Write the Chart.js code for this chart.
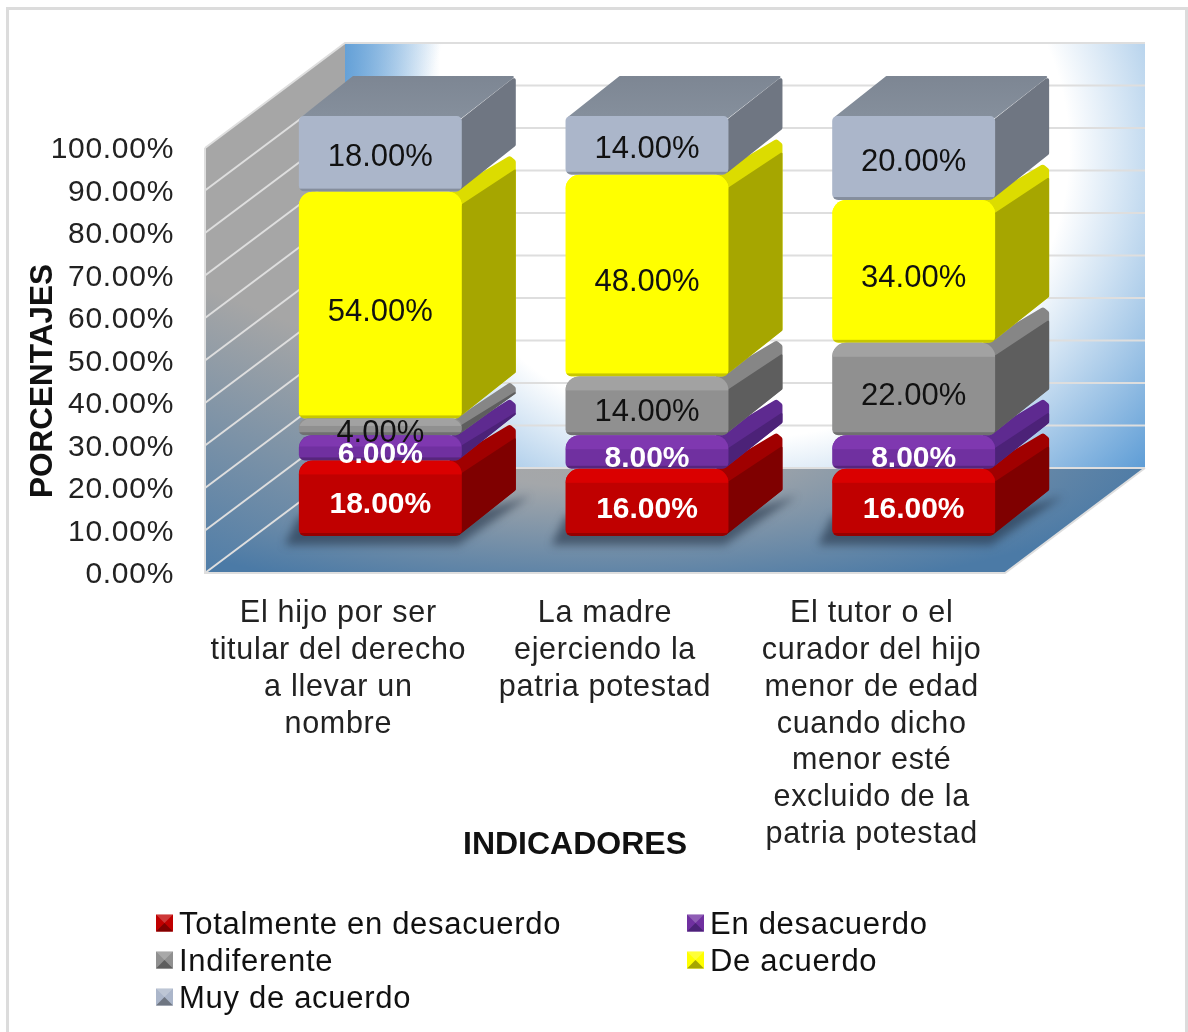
<!DOCTYPE html>
<html lang="es">
<head>
<meta charset="UTF-8">
<title>Indicadores</title>
<script src="https://cdn.jsdelivr.net/npm/chart.js@4"></script>
<style>
  body { margin: 0; background: #fff; overflow: hidden; }
  #frame { position: absolute; left: 6px; top: 7px; width: 1182px; height: 1025px; box-sizing: border-box;
           border: 3px solid #dcdcdc; border-bottom: none; }
  canvas { position: absolute; left: 0; top: 0; }
</style>
</head>
<body>
<div id="frame"></div>
<canvas id="chart" width="1188" height="1032"></canvas>
<script>
const categories = [
  ['El hijo por ser', 'titular del derecho', 'a llevar un', 'nombre'],
  ['La madre', 'ejerciendo la', 'patria potestad'],
  ['El tutor o el', 'curador del hijo', 'menor de edad', 'cuando dicho', 'menor esté', 'excluido de la', 'patria potestad']
];
const seriesNames = ['Totalmente en desacuerdo', 'En desacuerdo', 'Indiferente', 'De acuerdo', 'Muy de acuerdo'];
const totalmenteEnDesacuerdo = [18, 16, 16];
const enDesacuerdo = [6, 8, 8];
const indiferente = [4, 14, 22];
const deAcuerdo = [54, 48, 34];
const muyDeAcuerdo = [18, 14, 20];
const yTickLabels = ['0.00%', '10.00%', '20.00%', '30.00%', '40.00%', '50.00%', '60.00%', '70.00%', '80.00%', '90.00%', '100.00%'];
const yTitle = 'PORCENTAJES';
const xTitle = 'INDICADORES';

// colours per series: front, top band of the front, side, top band of the side
const frontColors = ['#C00000', '#7030A0', '#909090', '#FFFF00', '#ABB6CA'];
const bevelColors = ['#DA0000', '#7F38B0', '#A2A2A2', '#FFFF00', '#ABB6CA'];
const sideColors = ['#7F0000', '#4C2278', '#5E5E5E', '#A6A600', '#6F7682'];
const sideBevelColors = ['#A00000', '#5E2A90', '#868686', '#DCDC00', '#6F7682'];
const labelColors = ['#fff', '#fff', '#111', '#111', '#111'];
const FONT = '"Liberation Sans", Arial, sans-serif';

// fake 3D geometry
const WALL = { dx: 140, dy: -105 };
const BAR_SHIFT = { x: 42, y: -39 };
const BOX = { dx: 54, dy: -40 };
// the plot sits 2px lower than the walls so the tick text lines up
const NUDGE = 2;

function poly(ctx, pts, fill, r) {
  const n = pts.length;
  ctx.beginPath();
  const mid = (a, b) => [(a[0] + b[0]) / 2, (a[1] + b[1]) / 2];
  const start = mid(pts[n - 1], pts[0]);
  ctx.moveTo(start[0], start[1]);
  for (let i = 0; i < n; i++) {
    const next = mid(pts[i], pts[(i + 1) % n]);
    ctx.arcTo(pts[i][0], pts[i][1], next[0], next[1], r || 0.01);
  }
  ctx.closePath();
  ctx.fillStyle = fill;
  ctx.fill();
}

function ellipseGradient(ctx, cx, cy, rx, ry, stops, pts) {
  ctx.save();
  ctx.beginPath();
  pts.forEach((p, i) => (i ? ctx.lineTo(p[0], p[1]) : ctx.moveTo(p[0], p[1])));
  ctx.closePath();
  ctx.clip();
  ctx.translate(cx, cy);
  ctx.scale(rx, ry);
  const g = ctx.createRadialGradient(0, 0, 0, 0, 0, 1);
  stops.forEach(s => g.addColorStop(s[0], s[1]));
  ctx.fillStyle = g;
  ctx.fillRect(-10, -10, 20, 20);
  ctx.restore();
}

const walls3d = {
  id: 'walls3d',
  beforeDraw(chart) {
    const { ctx, chartArea: a, scales } = chart;
    const L = a.left, R = a.right, T = a.top - NUDGE, B = a.bottom - NUDGE;
    const dx = WALL.dx, dy = WALL.dy;

    // the tick text is spaced a bit wider than the plain font
    ctx.letterSpacing = '0.7px';

    // back wall
    const back = [[L + dx, T + dy], [R + dx, T + dy], [R + dx, B + dy], [L + dx, B + dy]];
    ellipseGradient(ctx, 745, 150, 540, 480, [[0, '#fff'], [0.6, '#fff'], [1, '#5B9BD5']], back);
    const tl = ctx.createLinearGradient(L + dx, 0, L + dx + 95, 0);
    tl.addColorStop(0, 'rgba(91,155,213,0.9)');
    tl.addColorStop(1, 'rgba(91,155,213,0)');
    poly(ctx, back, tl);

    // left wall
    const leftWall = [[L, T], [L + dx, T + dy], [L + dx, B + dy], [L, B]];
    const lg = ctx.createLinearGradient(L, B, L + 100, B - 245);
    lg.addColorStop(0, '#4F7DA8');
    lg.addColorStop(1, '#A6A6A6');
    poly(ctx, leftWall, lg);

    // floor
    ellipseGradient(ctx, 600, 450, 570, 150, [[0, '#A6A6A6'], [0.25, '#A4A7AA'], [1, '#4B7AA6']],
      [[L, B], [R, B], [R + dx, B + dy], [L + dx, B + dy]]);

    // gridlines along both walls
    ctx.lineWidth = 2;
    ctx.strokeStyle = '#DEDEDE';
    scales.y.ticks.forEach(t => {
      const y = scales.y.getPixelForValue(t.value) - NUDGE;
      ctx.beginPath();
      ctx.moveTo(L, y);
      ctx.lineTo(L + dx, y + dy);
      ctx.lineTo(R + dx, y + dy);
      ctx.stroke();
    });
    ctx.beginPath();
    ctx.moveTo(L, T);
    ctx.lineTo(L, B);
    ctx.lineTo(R, B);
    ctx.lineTo(R + dx, B + dy);
    ctx.stroke();
  },
  beforeDatasetsDraw(chart) {
    const { ctx } = chart;
    const metas = chart.data.datasets.map((d, i) => chart.getDatasetMeta(i));
    ctx.save();
    ctx.translate(BAR_SHIFT.x, BAR_SHIFT.y);

    // soft shadow on the floor
    metas[0].data.forEach(el => {
      const xL = el.x - el.width / 2, xR = el.x + el.width / 2, yB = el.base;
      ctx.save();
      ctx.filter = 'blur(4px)';
      poly(ctx, [[xL - 14, yB + 9], [xR - 4, yB + 9], [xR + BOX.dx + 14, yB + BOX.dy], [xR, yB - 20], [xL, yB - 20]], 'rgba(35,50,70,0.6)');
      ctx.restore();
    });

    // sides from the bottom up, the library draws the fronts over them
    metas.forEach((meta, s) => {
      const last = s === metas.length - 1;
      meta.data.forEach(el => {
        const xL = el.x - el.width / 2, xR = el.x + el.width / 2, yT = el.y, yB = el.base;
        const c = Math.min(14, (yB - yT) * 0.45);
        const bx = xR + BOX.dx;
        const backTop = yT + BOX.dy + 9;
        const backBot = Math.max(yB + BOX.dy - 6, backTop + 6);
        if (last) {
          const tg = ctx.createLinearGradient(0, yT + BOX.dy, 0, yT);
          tg.addColorStop(0, '#7D8693');
          tg.addColorStop(1, '#858F9C');
          poly(ctx, [[xL + 1, yT + 2], [xL + BOX.dx, yT + BOX.dy], [bx, yT + BOX.dy], [xR, yT + 2]], tg, 1);
          poly(ctx, [[xR - 2, yT + 4], [bx, yT + BOX.dy], [bx, backBot], [xR - 4, yB]], sideColors[s], 2);
        } else {
          poly(ctx, [[xR - c, yT + 1], [bx - 6, yT + BOX.dy + 4], [bx, backTop], [bx, backBot], [xR - 4, yB]], sideBevelColors[s], 3);
          poly(ctx, [[xR - 2, yT + c], [bx, Math.min(backTop + 8, backBot - 2)], [bx, backBot], [xR - 4, yB]], sideColors[s], 1);
        }
      });
    });
  },
  afterDatasetsDraw(chart) {
    const { ctx } = chart;
    ctx.letterSpacing = '0px';
    chart.data.datasets.forEach((ds, s) => {
      const last = s === chart.data.datasets.length - 1;
      chart.getDatasetMeta(s).data.forEach((el, i) => {
        const xL = el.x - el.width / 2, yT = el.y, yB = el.base, w = el.width, h = yB - yT;
        const c = last ? 5 : Math.min(14, h * 0.45);
        ctx.save();
        ctx.beginPath();
        ctx.roundRect(xL, yT, w, h, last ? [5, 5, 6, 6] : [14, 14, 6, 6]);
        ctx.clip();
        if (!last) {
          ctx.fillStyle = bevelColors[s];
          ctx.fillRect(xL, yT, w, c);
        }
        // dark rim along the bottom
        ctx.fillStyle = 'rgba(0,0,0,0.22)';
        ctx.fillRect(xL, yB - 3, w, 3);
        ctx.restore();

        ctx.fillStyle = labelColors[s];
        ctx.font = (s < 2 ? 'bold 30px ' : '31px ') + FONT;
        ctx.textAlign = 'center';
        ctx.textBaseline = 'middle';
        ctx.fillText(ds.data[i].toFixed(2) + '%', el.x, (yT + yB) / 2 + (last ? 2 : 5) + 2);
      });
    });
    ctx.restore();
  },
  afterDraw(chart) {
    const { ctx } = chart;

    // axis titles, they do not sit at the middle of the axes
    ctx.letterSpacing = '0px';
    ctx.fillStyle = '#111';
    ctx.font = 'bold 32px ' + FONT;
    ctx.textAlign = 'center';
    ctx.textBaseline = 'middle';
    ctx.fillText(xTitle, 575, 845);
    ctx.save();
    ctx.translate(43, 381);
    ctx.rotate(-Math.PI / 2);
    ctx.font = 'bold 31.5px ' + FONT;
    ctx.fillText(yTitle, 0, 0);
    ctx.restore();

    // legend in two columns
    const colX = [156, 687];
    const rowY = [923, 960, 997];
    ctx.letterSpacing = '0.7px';
    ctx.textAlign = 'left';
    ctx.font = '31px ' + FONT;
    seriesNames.forEach((name, i) => {
      const x = colX[i % 2], y = rowY[Math.floor(i / 2)], m = 17;
      ctx.fillStyle = frontColors[i];
      ctx.fillRect(x, y - m / 2, m, m);
      poly(ctx, [[x, y - m / 2], [x + m, y - m / 2], [x + m / 2, y]], 'rgba(255,255,255,0.22)');
      poly(ctx, [[x, y + m / 2], [x + m, y + m / 2], [x + m / 2, y]], sideColors[i]);
      ctx.fillStyle = '#111';
      ctx.fillText(name, x + 23, y + 2);
    });
  }
};

new Chart(document.getElementById('chart'), {
  type: 'bar',
  data: {
    labels: categories,
    datasets: [totalmenteEnDesacuerdo, enDesacuerdo, indiferente, deAcuerdo, muyDeAcuerdo].map((values, i) => ({
      label: seriesNames[i],
      data: values,
      yAxisID: 'yBar',
      backgroundColor: frontColors[i],
      borderWidth: 0,
      borderSkipped: false,
      inflateAmount: 0,
      clip: false,
      borderRadius: i === 4
        ? { topLeft: 5, topRight: 5, bottomLeft: 6, bottomRight: 6 }
        : { topLeft: 14, topRight: 14, bottomLeft: 6, bottomRight: 6 }
    }))
  },
  options: {
    responsive: false,
    animation: false,
    devicePixelRatio: 1,
    categoryPercentage: 1,
    barPercentage: 0.611,
    layout: { padding: { left: 8, top: 150, right: 183, bottom: 167 } },
    plugins: { legend: { display: false }, tooltip: { enabled: false } },
    scales: {
      x: {
        stacked: true,
        grid: { display: false, drawTicks: false },
        border: { display: false },
        afterFit: s => { s.height = 290; },
        ticks: {
          autoSkip: false, maxRotation: 0, minRotation: 0, padding: 20, color: '#222',
          font: { family: FONT, size: 30.5, lineHeight: 36.9 / 30.5 }
        }
      },
      y: {
        min: 0,
        max: 100,
        grid: { display: false, drawTicks: false },
        border: { display: false },
        afterFit: s => { s.width = 197; },
        ticks: {
          stepSize: 10, padding: 31, color: '#222',
          font: { family: FONT, size: 30 },
          callback: (v, i) => yTickLabels[i]
        }
      },
      // the boxes stand in front of the back wall, a little shorter than the axis
      yBar: { stacked: true, display: false, min: 0, max: 101.2 }
    }
  },
  plugins: [walls3d]
});
</script>
</body>
</html>
